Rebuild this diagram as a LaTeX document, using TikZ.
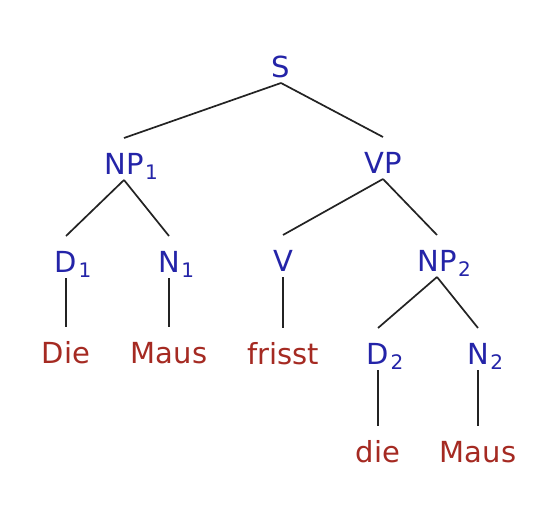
\documentclass[tikz,border=0pt]{standalone}
\usepackage{fontspec}
\setmainfont{DejaVu Sans}
\definecolor{catblue}{RGB}{36,36,168}
\definecolor{wordred}{RGB}{165,42,34}
\definecolor{edgegray}{RGB}{35,35,35}
\newcommand{\subidx}[1]{\rlap{\kern1.5pt\raisebox{-5pt}{\fontsize{20}{20}\selectfont #1}}}
\tikzset{
  cat/.style={anchor=base, inner sep=0pt, text=catblue, font=\fontsize{29}{29}\selectfont},
  word/.style={anchor=base, inner sep=0pt, text=wordred, font=\fontsize{29}{29}\selectfont},
  edge/.style={draw=edgegray, line width=1.7pt}
}
\begin{document}
\begin{tikzpicture}[x=1pt,y=-1pt]
\useasboundingbox (0,0) rectangle (539,506);
\fill[white] (0,0) rectangle (539,506);
% categories
\node[cat] (S)   at (281,77)  {S};
\node[cat] (NP1) at (124,174) {NP\subidx{1}};
\node[cat] (VP)  at (383,173) {VP};
\node[cat] (D1)  at (66,272)  {D\subidx{1}};
\node[cat] (N1)  at (169,272) {N\subidx{1}};
\node[cat] (V)   at (283,271) {V};
\node[cat] (NP2) at (437,271) {NP\subidx{2}};
\node[cat] (D2)  at (378,364) {D\subidx{2}};
\node[cat] (N2)  at (478,364) {N\subidx{2}};
% words
\node[word] (Die)    at (66,363)  {Die};
\node[word] (Maus1)  at (169,363) {Maus};
\node[word] (frisst) at (283,364) {frisst};
\node[word] (die)    at (378,462) {die};
\node[word] (Maus2)  at (478,462) {Maus};
% edges
\foreach \p/\c in {S/NP1, S/VP, NP1/D1, NP1/N1, VP/V, VP/NP2, NP2/D2, NP2/N2, D1/Die, N1/Maus1, V/frisst, D2/die, N2/Maus2}
  \draw[edge] ([yshift=-6pt]\p.base) -- ([yshift=36pt]\c.base);
\end{tikzpicture}
\end{document}
